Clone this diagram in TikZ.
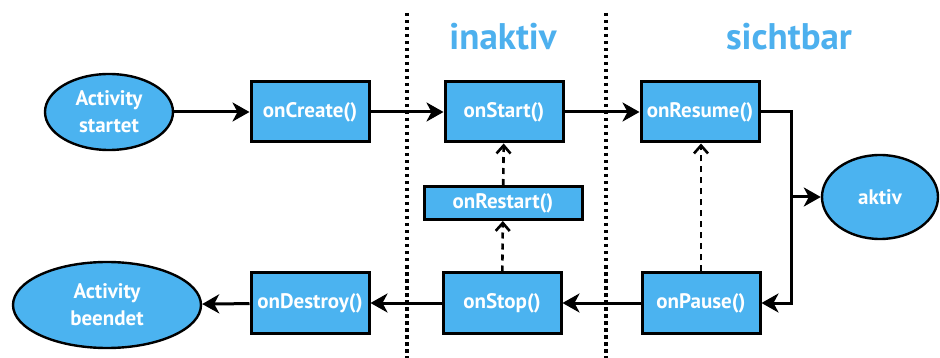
\documentclass[tikz,border=0pt]{standalone}
\usepackage{fontspec}
\setmainfont{PT Sans}
\usetikzlibrary{arrows.meta,shapes.geometric}
\definecolor{boxblue}{HTML}{4BB3F0}
\definecolor{titleblue}{HTML}{4DB0EE}
\begin{document}
\begin{tikzpicture}[x=1pt,y=-1pt,
 box/.style={draw=black,line width=3pt,fill=boxblue,text=white,font=\bfseries\fontsize{21}{24}\selectfont,minimum width=118pt,minimum height=60pt,inner sep=0pt},
 oval/.style={ellipse,draw=black,line width=2.4pt,fill=boxblue,text=white,font=\bfseries\fontsize{21}{27}\selectfont,align=center,inner sep=0pt},
 flow/.style={line width=3pt,-{Stealth[length=17pt,width=19pt,inset=5pt]}},
 back/.style={line width=2.6pt,dash pattern=on 6pt off 5pt,-{Straight Barb[length=8pt,width=14pt]}},
 sep/.style={line width=3.2pt,dash pattern=on 3.5pt off 3.5pt},
 title/.style={text=titleblue,font=\bfseries\fontsize{37}{40}\selectfont}]
\useasboundingbox[fill=white] (0,0) rectangle (940,358);
% separators
\coordinate (d1t) at (407,13); \coordinate (d1b) at (407,358);
\coordinate (d2t) at (606,13); \coordinate (d2b) at (606,358);
\draw[sep] (d1t) -- (d1b);
\draw[sep] (d2t) -- (d2b);
% titles
\node[title] (t1) at (503,37) {inaktiv};
\node[title] (t2) at (789,37) {sichtbar};
% nodes
\node[oval,minimum width=128pt,minimum height=76pt] (start) at (109,112) {Activity\\startet};
\node[box] (create) at (310,112) {onCreate()};
\node[box] (startm) at (504,112) {onStart()};
\node[box] (resume) at (700,112) {onResume()};
\node[box,minimum width=158pt,minimum height=33pt] (restart) at (503,203) {onRestart()};
\node[box] (stop) at (502,303) {onStop()};
\node[box] (pause) at (701,303) {onPause()};
\node[box] (destroy) at (310,303) {onDestroy()};
\node[oval,minimum width=188pt,minimum height=86pt] (end) at (107,305) {Activity\\beendet};
\node[oval,minimum width=116pt,minimum height=84pt] (aktiv) at (880,197) {aktiv};
% connectors
\draw[flow] (start) -- (create);
\draw[flow] (create) -- (startm);
\draw[flow] (startm) -- (resume);
\coordinate (rx) at (791,112);
\coordinate (ry) at (791,303);
\draw[flow] (resume.east) -- (rx) -- (ry) -- (pause.east);
\draw[flow] (rx |- aktiv.west) -- (aktiv.west);
\draw[flow] (pause) -- (stop);
\draw[flow] (stop) -- (destroy);
\draw[flow] (destroy) -- (end);
\draw[back] (stop) -- (restart);
\draw[back] (restart) -- (startm);
\draw[back] (pause.north) -- (pause.north |- resume.south);
\end{tikzpicture}
\end{document}
